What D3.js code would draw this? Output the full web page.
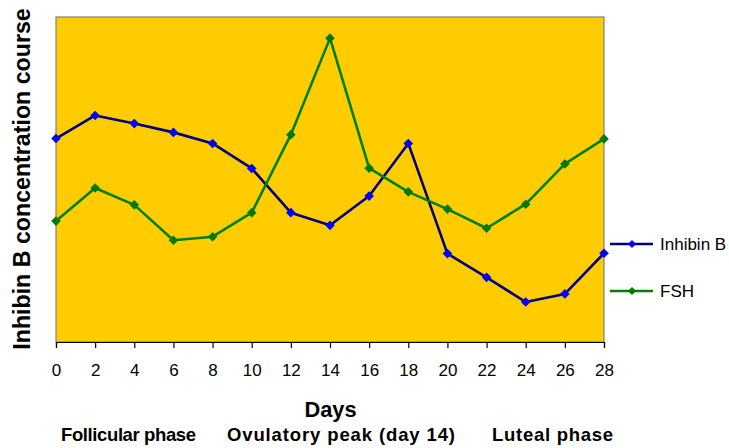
<!DOCTYPE html>
<html>
<head>
<meta charset="utf-8">
<script src="https://cdn.jsdelivr.net/npm/d3@7"></script>
<style>
  html, body { margin: 0; padding: 0; background: #fff; }
  svg { display: block; }
  text { font-family: "Liberation Sans", Arial, sans-serif; }
</style>
</head>
<body>
<svg id="chart" width="729" height="448"></svg>
<script>
// ---- data ----
const days = [0, 2, 4, 6, 8, 10, 12, 14, 16, 18, 20, 22, 24, 26, 28];
const inhibinB = [62.6, 69.7, 67.2, 64.5, 61.1, 53.4, 39.8, 35.9, 44.9, 61.1, 27.2, 19.9, 12.3, 14.8, 27.3];
const fsh = [37.2, 47.4, 42.2, 31.3, 32.4, 39.8, 63.8, 93.5, 53.5, 46.2, 40.9, 35.0, 42.4, 54.8, 62.5];
const seriesNames = ["Inhibin B", "FSH"];
const xTickValues = days;
const yTitle = "Inhibin B concentration course";
const xTitle = "Days";
const phaseLabels = ["Follicular phase", "Ovulatory peak (day 14)", "Luteal phase"];

// ---- layout ----
const svg = d3.select("#chart");
const plot = { left: 56, right: 604, top: 17, bottom: 342 };

const x = d3.scaleLinear().domain([0, 28]).range([plot.left, plot.right]);
const y = d3.scaleLinear().domain([0, 100]).range([plot.bottom, plot.top]);

// plot background
svg.append("rect")
  .attr("x", plot.left).attr("y", plot.top)
  .attr("width", plot.right - plot.left).attr("height", plot.bottom - plot.top)
  .attr("fill", "#FFCC00")
  .attr("stroke", "#808080").attr("stroke-width", 1.2);

// x axis
const xAxis = d3.axisBottom(x).tickValues(xTickValues).tickSize(6).tickPadding(16).tickFormat(d3.format("d"));
const gx = svg.append("g").attr("transform", `translate(0,${plot.bottom})`).call(xAxis);
gx.select(".domain").attr("stroke", "#000").attr("stroke-width", 1.2);
gx.selectAll(".tick line").attr("stroke", "#000").attr("stroke-width", 1.2);
gx.selectAll(".tick text").attr("font-size", 17).attr("fill", "#000")
  .attr("font-family", "'Liberation Sans', Arial, sans-serif");

// series
const series = [
  { name: seriesNames[0], values: inhibinB, line: "#000080", marker: "#0000FF" },
  { name: seriesNames[1], values: fsh, line: "#008000", marker: "#007A00" }
];

const lineGen = d3.line().x((d, i) => x(days[i])).y(d => y(d));
const diamond = (cx, cy, r) => `M${cx},${cy - r}L${cx + r},${cy}L${cx},${cy + r}L${cx - r},${cy}Z`;

series.forEach(s => {
  svg.append("path").datum(s.values)
    .attr("d", lineGen).attr("fill", "none")
    .attr("stroke", s.line).attr("stroke-width", 2.6).attr("stroke-linejoin", "round");
  svg.append("g").selectAll("path").data(s.values).join("path")
    .attr("d", (d, i) => diamond(x(days[i]), y(d), 4.8))
    .attr("fill", s.marker);
});

// legend
const legendY = [244, 291];
series.forEach((s, i) => {
  const g = svg.append("g");
  g.append("line").attr("x1", 610).attr("x2", 653).attr("y1", legendY[i]).attr("y2", legendY[i])
    .attr("stroke", s.line).attr("stroke-width", 2.4);
  g.append("path").attr("d", diamond(632, legendY[i], 4)).attr("fill", s.marker);
  g.append("text").attr("x", 660).attr("y", legendY[i] + 6)
    .attr("font-size", 17).attr("fill", "#000").text(s.name);
});

// y title
svg.append("text")
  .attr("transform", `translate(30,179) rotate(-90)`)
  .attr("text-anchor", "middle")
  .attr("font-size", 23.2).attr("font-weight", "bold").attr("fill", "#000")
  .text(yTitle);

// x title
svg.append("text")
  .attr("x", 330.5).attr("y", 416.5)
  .attr("text-anchor", "middle")
  .attr("font-size", 21.8).attr("font-weight", "bold").attr("fill", "#000")
  .text(xTitle);

// phase labels
const phaseX = [61, 227, 492];
const phaseW = [135, 228, 121];
phaseLabels.forEach((t, i) => {
  svg.append("text")
    .attr("x", phaseX[i]).attr("y", 440.5)
    .attr("font-size", 18.5).attr("font-weight", "bold").attr("fill", "#000")
    .attr("textLength", phaseW[i]).attr("lengthAdjust", "spacing")
    .text(t);
});
</script>
</body>
</html>
